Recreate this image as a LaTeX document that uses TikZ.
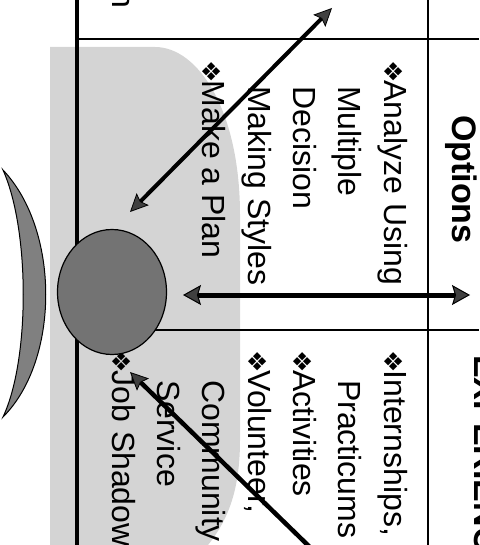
\documentclass[tikz,border=0pt]{standalone}
\usepackage{fontspec}
\setmainfont{Liberation Sans}
\newfontfamily\bulfont{DejaVu Sans}
\usetikzlibrary{arrows.meta,shapes.geometric}
\newcommand{\blt}{{\bulfont\fontsize{25}{25}\selectfont\raisebox{0pt}{❖}}\hspace{-2pt}}
\tikzset{
  bigtip/.tip={Stealth[length=18pt,width=20pt,inset=3pt,line width=1pt,fill=black!75]},
  smalltip/.tip={Stealth[length=18pt,width=17pt,inset=3pt,line width=0.8pt,fill=black!75]},
  txt/.style={rotate=-90, anchor=base west, inner sep=0pt, font=\fontsize{32}{32}\selectfont},
  hdr/.style={rotate=-90, anchor=base west, inner sep=0pt, font=\bfseries\fontsize{34}{34}\selectfont},
  thinline/.style={line width=2pt},
  thickline/.style={line width=4.5pt},
  shade/.style={fill=black!17, draw=none},
}
\begin{document}
\begin{tikzpicture}[x=1pt,y=-1pt]
\useasboundingbox (0,0) rectangle (479,545);
\clip (0,0) rectangle (479,545);
% light shaded region
\path[shade] (50,47) -- (155,47) .. controls (198,47) and (240,110) .. (240,215)
  -- (240,440) .. controls (240,490) and (228,520) .. (208,545) -- (50,545) -- cycle;
% table lines
\coordinate (vT) at (77,0);   \coordinate (vB) at (77,545);
\coordinate (wT) at (428,0);  \coordinate (wB) at (428,545);
\coordinate (h1L) at (77,39); \coordinate (h1R) at (479,39);
\coordinate (h2L) at (77,330); \coordinate (h2R) at (479,330);
\draw[thickline] (vT) -- (vB);
\draw[thinline] (wT) -- (wB);
\draw[thinline] (h1L) -- (h1R);
\draw[thinline] (h2L) -- (h2R);
% crescent
\draw[fill=black!50, line width=1pt] (3,170) .. controls (60,230) and (60,360) .. (3,417)
  .. controls (30,360) and (30,230) .. (3,170) -- cycle;
% texts
\node[txt, anchor=base east] (tn) at (112.2,9) {n};
\node[hdr] (opt) at (452,115) {Options};
\node[hdr] (exp) at (474,355) {EXPERIENCE};
\node[txt] (o1) at (384,60) {\blt Analyze Using};
\node[txt] (o2) at (338.7,86) {Multiple};
\node[txt] (o3) at (293.4,86) {Decision};
\node[txt] (o4) at (248.1,86) {Making Styles};
\node[txt] (o5) at (202.8,60) {\blt Make a Plan};
\node[txt] (e1) at (384,350) {\blt Internships,};
\node[txt] (e2) at (338.7,380) {Practicums};
\node[txt] (e3) at (293.4,350) {\blt Activities};
\node[txt] (e4) at (248.1,350) {\blt Volunteer,};
\node[txt] (e5) at (202.8,380) {Community};
\node[txt] (e6) at (157.5,380) {Service};
\node[txt] (e7) at (112.2,350) {\blt Job Shadow};
% ball
\node[ellipse, draw, line width=1.2pt, fill=black!55, minimum width=109pt, minimum height=125pt, inner sep=0pt] (ball) at (112,292) {};
% arrows
\coordinate (hL) at (183,295); \coordinate (hR) at (470,295);
\coordinate (dA) at (130,212); \coordinate (dB) at (332,8);
\coordinate (uA) at (318,555); \coordinate (uB) at (130,372);
\draw[line width=5pt, bigtip-bigtip] (hL) -- (hR);
\draw[line width=4pt, smalltip-smalltip] (dA) -- (dB);
\draw[line width=4.5pt, -smalltip] (uA) -- (uB);
\end{tikzpicture}
\end{document}
